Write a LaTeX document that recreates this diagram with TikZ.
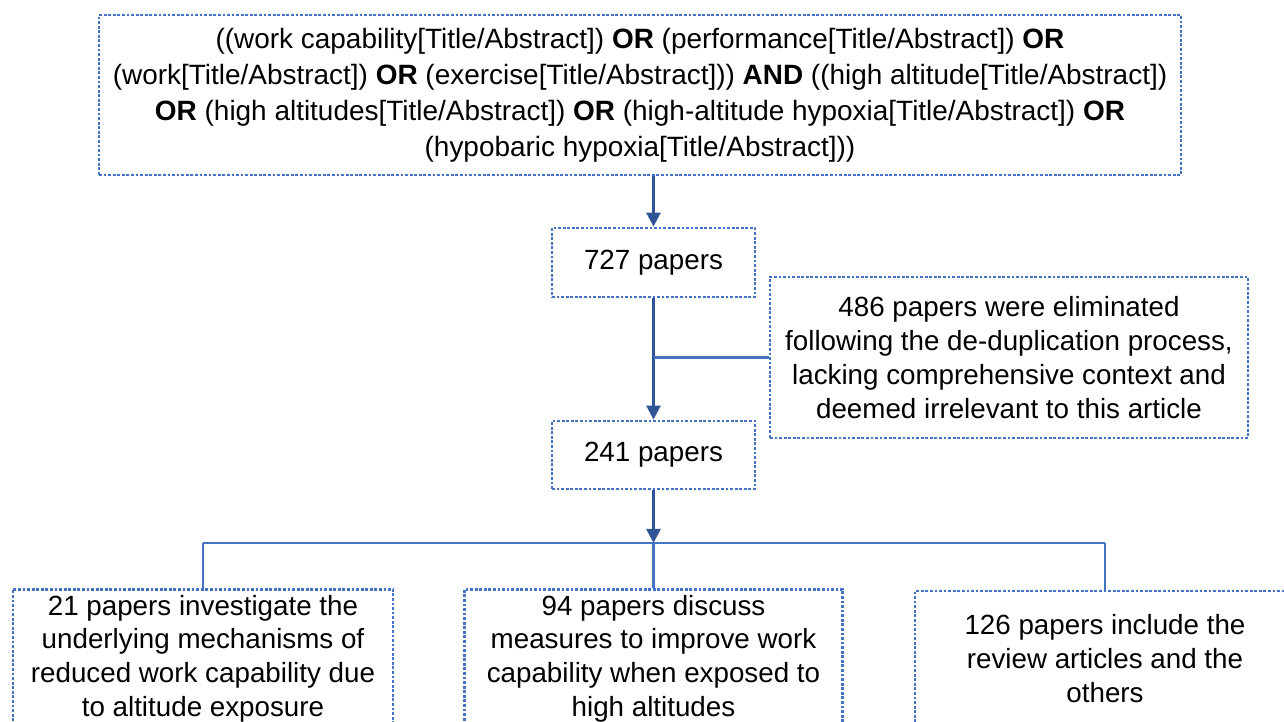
\documentclass[tikz,border=0pt]{standalone}
\usepackage{fontspec}
\setmainfont{Liberation Sans}
\usetikzlibrary{arrows.meta}
\definecolor{boxblue}{RGB}{68,114,196}
\definecolor{arrowblue}{RGB}{47,85,151}
\tikzset{
  dotbox/.style={draw=boxblue,line width=1.6pt,densely dotted,rectangle,align=center,font=\fontsize{15.8}{19.2}\selectfont},
  flow/.style={draw=arrowblue,line width=1.5pt,-{Triangle[width=8pt,length=8pt]}},
  branch/.style={draw=boxblue,line width=1.5pt}
}
\begin{document}
\begin{tikzpicture}
\clip (0,0) rectangle (25.68,-14.42);
\node[dotbox,minimum width=21.64cm,minimum height=3.2cm,font=\fontsize{15.9}{20.5}\selectfont] (q) at (12.8,-1.9) {((work capability[Title/Abstract]) \textbf{OR} (performance[Title/Abstract]) \textbf{OR}\\(work[Title/Abstract]) \textbf{OR} (exercise[Title/Abstract])) \textbf{AND} ((high altitude[Title/Abstract])\\\textbf{OR} (high altitudes[Title/Abstract]) \textbf{OR} (high-altitude hypoxia[Title/Abstract]) \textbf{OR}\\(hypobaric hypoxia[Title/Abstract]))};
\node[dotbox,minimum width=4.06cm,minimum height=1.38cm] (n727) at (13.07,-5.25) {727 papers};
\node[dotbox,minimum width=9.56cm,minimum height=3.22cm] (n486) at (20.18,-7.15) {486 papers were eliminated\\following the de-duplication process,\\lacking comprehensive context and\\deemed irrelevant to this article};
\node[dotbox,minimum width=4.06cm,minimum height=1.36cm] (n241) at (13.07,-9.1) {241 papers};
\node[dotbox,minimum width=7.6cm,minimum height=2.7cm] (mech) at (4.06,-13.17) {21 papers investigate the\\underlying mechanisms of\\reduced work capability due\\to altitude exposure};
\node[dotbox,minimum width=7.56cm,minimum height=2.7cm] (meas) at (13.07,-13.17) {94 papers discuss\\measures to improve work\\capability when exposed to\\high altitudes};
\node[dotbox,minimum width=7.6cm,minimum height=2.7cm] (rev) at (22.1,-13.17) {126 papers include the\\review articles and the\\others};
\coordinate (br) at (13.07,-10.86);
\draw[flow] (q.south -| n727) -- (n727);
\draw[flow] (n727) -- (n241);
\draw[branch] (n727.south |- n486.west) -- (n486);
\draw[flow] (n241) -- (br);
\draw[branch] (br -| mech) -- (br -| rev);
\draw[branch] (br -| mech) -- (mech);
\draw[branch] (br) -- (meas);
\draw[branch] (br -| rev) -- (rev);
\end{tikzpicture}
\end{document}
